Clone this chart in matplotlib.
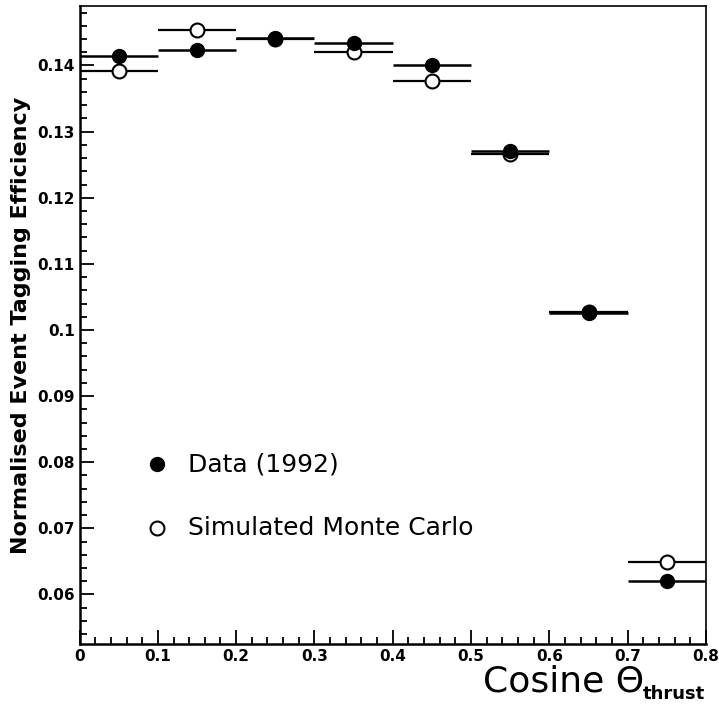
import matplotlib

matplotlib.use("Agg")

import matplotlib.pyplot as plt
from matplotlib.ticker import MultipleLocator, FuncFormatter

# bin centres in cos(theta_thrust), half-width 0.05
bin_centres = [0.05, 0.15, 0.25, 0.35, 0.45, 0.55, 0.65, 0.75]
bin_half_width = 0.05

data_1992 = [0.1414, 0.1423, 0.1441, 0.1434, 0.1400, 0.1270, 0.1026, 0.0620]
data_err = [0.0004, 0.0004, 0.0004, 0.0004, 0.0004, 0.0004, 0.0003, 0.0003]
monte_carlo = [0.1392, 0.1454, 0.1440, 0.1421, 0.1376, 0.1266, 0.1027, 0.0649]

fig = plt.figure(figsize=(7.19, 7.04), dpi=100)
ax = fig.add_axes([0.1106, 0.0852, 0.8714, 0.9063])

ax.errorbar(
    bin_centres, monte_carlo, xerr=bin_half_width,
    fmt="o", mfc="white", mec="black", mew=1.5, ms=10,
    ecolor="black", elinewidth=1.6, capsize=0, zorder=2
)
ax.errorbar(
    bin_centres, data_1992, xerr=bin_half_width, yerr=data_err,
    fmt="o", mfc="black", mec="black", ms=10,
    ecolor="black", elinewidth=1.8, capsize=0, zorder=3
)

# legend drawn as text inside the axes
ax.plot([0.099], [0.0797], "o", mfc="black", mec="black", ms=10)
ax.text(0.138, 0.0797, "Data (1992)", fontsize=18, va="center")
ax.plot([0.099], [0.0700], "o", mfc="white", mec="black", mew=1.5, ms=10)
ax.text(0.138, 0.0700, "Simulated Monte Carlo", fontsize=18, va="center")

ax.set_xlim(0, 0.8)
ax.set_ylim(0.0525, 0.149)

ax.xaxis.set_major_locator(MultipleLocator(0.1))
ax.xaxis.set_minor_locator(MultipleLocator(0.02))
ax.yaxis.set_major_locator(MultipleLocator(0.01))
ax.yaxis.set_minor_locator(MultipleLocator(0.002))


def short_label(v, pos):
    s = f"{v:.2f}".rstrip("0").rstrip(".")
    return s


ax.xaxis.set_major_formatter(FuncFormatter(short_label))
ax.yaxis.set_major_formatter(FuncFormatter(short_label))

ax.tick_params(which="both", direction="in", top=False, right=False,
               width=1.3, labelsize=11)
ax.tick_params(which="major", length=10)
ax.tick_params(which="minor", length=5)
for lab in ax.get_xticklabels() + ax.get_yticklabels():
    lab.set_fontweight("bold")

for side in ["left", "bottom"]:
    ax.spines[side].set_linewidth(1.8)
for side in ["top", "right"]:
    ax.spines[side].set_linewidth(1.2)

ax.set_ylabel("Normalised Event Tagging Efficiency", fontsize=16,
              fontweight="bold", labelpad=4)
fig.text(0.896, 0.008, "Cosine \u0398", fontsize=26,
         ha="right", va="bottom")
fig.text(0.981, 0.002, "thrust", fontsize=13, fontweight="bold",
         ha="right", va="bottom")

fig.savefig("out.png", dpi=100)
